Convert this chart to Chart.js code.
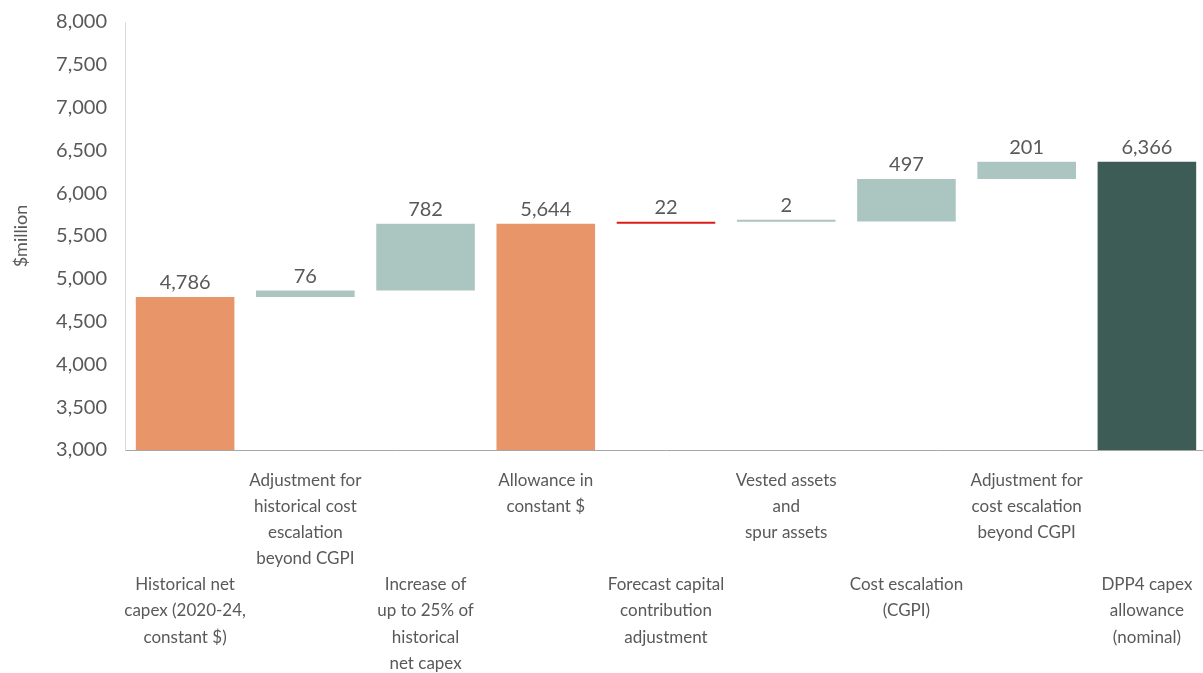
<!DOCTYPE html>
<html>
<head>
<meta charset="utf-8">
<script src="https://cdn.jsdelivr.net/npm/chart.js@4"></script>
<style>
    html, body { margin: 0; padding: 0; background: #ffffff; overflow: hidden; }
    #wrap { width: 1207px; height: 673px; }
</style>
</head>
<body>
<div id="wrap"><canvas id="waterfall"></canvas></div>
<script>
// Data
const categories = [
    ['', '', '', '', 'Historical net', 'capex (2020-24,', 'constant $)'],
    ['Adjustment for', 'historical cost', 'escalation', 'beyond CGPI'],
    ['', '', '', '', 'Increase of', 'up to 25% of', 'historical', 'net capex'],
    ['Allowance in', 'constant $'],
    ['', '', '', '', 'Forecast capital', 'contribution', 'adjustment'],
    ['Vested assets', 'and', 'spur assets'],
    ['', '', '', '', 'Cost escalation', '(CGPI)'],
    ['Adjustment for', 'cost escalation', 'beyond CGPI'],
    ['', '', '', '', 'DPP4 capex', 'allowance', '(nominal)']
];
const values = [4786, 76, 782, 5644, 22, 2, 497, 201, 6366];
const kinds = ['total', 'step', 'step', 'total', 'step', 'step', 'step', 'step', 'total'];
const barColors = ['#E8956A', '#ABC5C0', '#ABC5C0', '#E8956A', '#DD1C1A', '#ABC5C0', '#ABC5C0', '#ABC5C0', '#3D5C55'];
const yMin = 3000;
const yMax = 8000;
const yStep = 500;

// Build floating bars from running total
function buildRanges() {
    let running = 0;
    return values.map((v, i) => {
        if (kinds[i] === 'total') {
            running = v;
            return [yMin, v];
        }
        const start = running;
        running += v;
        return [start, running];
    });
}

const textColor = '#595959';
const fontFamily = 'Lato, "Open Sans", sans-serif';

// Value labels above each bar
const valueLabels = {
    id: 'valueLabels',
    afterDatasetsDraw(chart) {
        const ctx = chart.ctx;
        const meta = chart.getDatasetMeta(0);
        ctx.save();
        ctx.font = '20px ' + fontFamily;
        ctx.fillStyle = textColor;
        ctx.textAlign = 'center';
        ctx.textBaseline = 'alphabetic';
        meta.data.forEach((bar, i) => {
            const top = Math.min(bar.y, bar.base);
            ctx.fillText(values[i].toLocaleString('en-US'), bar.x, top - 8);
        });
        ctx.restore();
    }
};

const ctx = document.getElementById('waterfall').getContext('2d');
new Chart(ctx, {
    type: 'bar',
    data: {
        labels: categories,
        datasets: [{
            data: buildRanges(),
            backgroundColor: barColors,
            borderWidth: 0,
            minBarLength: 2,
            barPercentage: 0.82,
            categoryPercentage: 1
        }]
    },
    options: {
        responsive: true,
        maintainAspectRatio: false,
        animation: false,
        layout: { padding: { top: 19, right: 0, left: 0, bottom: 0 } },
        plugins: {
            legend: { display: false },
            tooltip: { enabled: false }
        },
        scales: {
            x: {
                grid: { display: false },
                border: { display: true, color: '#A6A6A6', width: 1 },
                ticks: {
                    color: textColor,
                    font: { family: fontFamily, size: 17, lineHeight: 1.54 },
                    maxRotation: 0,
                    autoSkip: false,
                    padding: 9
                },
                afterFit: s => { s.height = 223; }
            },
            y: {
                min: yMin,
                max: yMax,
                grid: { display: false },
                border: { display: true, color: '#D9D9D9', width: 1 },
                ticks: {
                    stepSize: yStep,
                    color: textColor,
                    font: { family: fontFamily, size: 20 },
                    padding: 10,
                    callback: v => v.toLocaleString('en-US')
                },
                title: {
                    display: true,
                    text: '$million',
                    color: textColor,
                    font: { family: fontFamily, size: 18 },
                    padding: { top: 10, bottom: 0 }
                },
                afterFit: s => { s.width = 125; }
            }
        }
    },
    plugins: [valueLabels]
});
</script>
</body>
</html>
